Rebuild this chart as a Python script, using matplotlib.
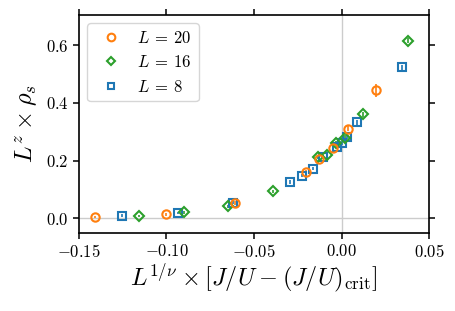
import matplotlib
matplotlib.use("Agg")
import matplotlib.pyplot as plt
from matplotlib.lines import Line2D

plt.rcParams['mathtext.fontset'] = 'cm'
plt.rcParams['font.family'] = 'serif'
plt.rcParams['font.serif'] = ['cmr10', 'DejaVu Serif']
plt.rcParams['axes.formatter.use_mathtext'] = True
plt.rcParams['axes.unicode_minus'] = True

# L = 20
x20 = [-0.1409, -0.1005, -0.0609, -0.0203, -0.0127, -0.0047, 0.0035, 0.0195]
y20 = [0.003, 0.014, 0.053, 0.160, 0.206, 0.245, 0.311, 0.443]
e20 = [0.004, 0.005, 0.006, 0.008, 0.008, 0.009, 0.010, 0.022]
# L = 16
x16 = [-0.1157, -0.0898, -0.0647, -0.0390, -0.0133, -0.0081, -0.0031, 0.0020, 0.0125, 0.0380]
y16 = [0.007, 0.020, 0.041, 0.093, 0.212, 0.218, 0.260, 0.279, 0.361, 0.616]
e16 = [0.004, 0.004, 0.005, 0.005, 0.006, 0.007, 0.007, 0.008, 0.009, 0.010]
# L = 8
x8 = [-0.1256, -0.0932, -0.0618, -0.0294, -0.0227, -0.0165, -0.0104, -0.0024, 0.0001, 0.0030, 0.0090, 0.0348]
y8 = [0.009, 0.017, 0.053, 0.125, 0.148, 0.172, 0.213, 0.246, 0.260, 0.283, 0.332, 0.524]
e8 = [0.004, 0.004, 0.005, 0.006, 0.006, 0.006, 0.007, 0.007, 0.007, 0.008, 0.008, 0.009]

fig = plt.figure(figsize=(4.56, 3.11), dpi=100)
ax = fig.add_axes([0.173, 0.252, 0.768, 0.700])

ax.axhline(0, color='#cccccc', lw=1, zorder=0)
ax.axvline(0, color='#cccccc', lw=1, zorder=0)

series = [
    (x8, y8, e8, 's', 5.5, '#1f77b4', r'$L\:=\:8$'),
    (x16, y16, e16, 'D', 5.0, '#2ca02c', r'$L\:=\:16$'),
    (x20, y20, e20, 'o', 6.0, '#ff7f0e', r'$L\:=\:20$'),
]
handles = []
for x, y, e, m, ms, c, lab in series:
    ax.errorbar(x, y, yerr=e, marker=m, color=c, ls='none', mfc='none', mew=1.5,
                ms=ms, elinewidth=1.2, capsize=0)
    handles.append(Line2D([], [], ls='none', marker=m, color=c, mfc='none', mew=1.5,
                          ms=ms - 0.5, label=lab))

ax.set_xlim(-0.15, 0.05)
ax.set_ylim(-0.05, 0.705)
ax.set_xticks([-0.15, -0.10, -0.05, 0.00, 0.05])
ax.set_yticks([0.0, 0.2, 0.4, 0.6])
ax.xaxis.set_major_formatter(matplotlib.ticker.FuncFormatter(lambda v, p: r'$%.2f$' % v if abs(v) > 1e-9 else r'$0.00$'))
ax.yaxis.set_major_formatter(matplotlib.ticker.FuncFormatter(lambda v, p: r'$%.1f$' % v if abs(v) > 1e-9 else r'$0.0$'))
ax.tick_params(direction='out', top=True, right=True, labelsize=12, length=4, width=1.1)
for s in ax.spines.values():
    s.set_linewidth(1.2)

ax.set_xlabel(r'$L^{1/\nu} \:\times\: [J/U \:-\: (J/U)_{\mathrm{crit}}]$', fontsize=17.5, labelpad=1)
ax.set_ylabel(r'$L^z \:\times\: \rho_s$', fontsize=17.5, labelpad=4)

ax.legend(handles=handles[::-1], loc='upper left', fontsize=12, handletextpad=0.6,
          borderaxespad=0.5)

fig.savefig('out.png', dpi=100)
